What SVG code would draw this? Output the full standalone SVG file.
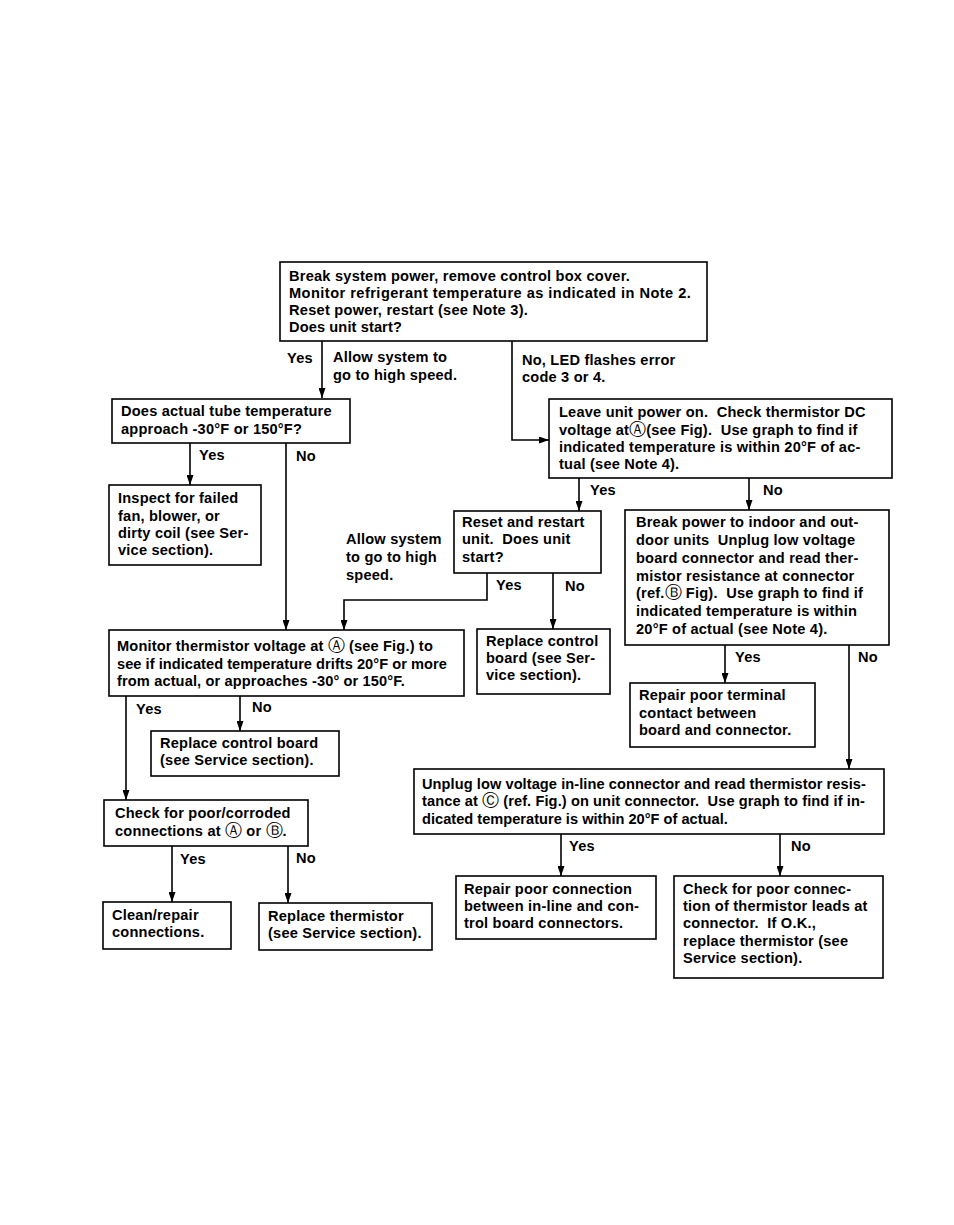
<svg xmlns="http://www.w3.org/2000/svg" width="954" height="1225" viewBox="0 0 954 1225">
<style>
.box{fill:#fff;stroke:#000;stroke-width:1.6}
.c{fill:none;stroke:#000;stroke-width:1.6}
text{font-family:"Liberation Sans","DejaVu Sans",Arial,sans-serif;font-size:14.6px;font-weight:bold;letter-spacing:0.2px;fill:#000}
.cl{font-family:"DejaVu Sans",sans-serif;font-size:17px;font-weight:normal;letter-spacing:0}
</style>
<defs>
<marker id="ah" viewBox="0 0 10 10" refX="10" refY="5" markerWidth="10" markerHeight="7" markerUnits="userSpaceOnUse" orient="auto" preserveAspectRatio="none">
<path d="M0,0 L10,5 L0,10 z" fill="#000"/>
</marker>
</defs>
<rect width="954" height="1225" fill="#fff"/>
<g id="connectors">
<path class="c" d="M322,341 V398" marker-end="url(#ah)"/>
<path class="c" d="M512,341 V440 H549" marker-end="url(#ah)"/>
<path class="c" d="M190,443 V485" marker-end="url(#ah)"/>
<path class="c" d="M286,443 V630" marker-end="url(#ah)"/>
<path class="c" d="M579,478 V511" marker-end="url(#ah)"/>
<path class="c" d="M749,478 V510" marker-end="url(#ah)"/>
<path class="c" d="M487,573 V600 H344 V630" marker-end="url(#ah)"/>
<path class="c" d="M553,573 V629" marker-end="url(#ah)"/>
<path class="c" d="M725,645 V683" marker-end="url(#ah)"/>
<path class="c" d="M849,645 V769" marker-end="url(#ah)"/>
<path class="c" d="M126,696 V800" marker-end="url(#ah)"/>
<path class="c" d="M240,696 V731" marker-end="url(#ah)"/>
<path class="c" d="M561,834 V876" marker-end="url(#ah)"/>
<path class="c" d="M780,834 V876" marker-end="url(#ah)"/>
<path class="c" d="M172,846 V902" marker-end="url(#ah)"/>
<path class="c" d="M288,846 V903" marker-end="url(#ah)"/>
<text x="287" y="363">Yes</text>
<text x="333" y="362">Allow system to</text>
<text x="333" y="380">go to high speed.</text>
<text x="522" y="365">No, LED flashes error</text>
<text x="522" y="382">code 3 or 4.</text>
<text x="199" y="460">Yes</text>
<text x="296" y="461">No</text>
<text x="590" y="495">Yes</text>
<text x="763" y="495">No</text>
<text x="346" y="544">Allow system</text>
<text x="346" y="562">to go to high</text>
<text x="346" y="580">speed.</text>
<text x="496" y="590">Yes</text>
<text x="565" y="591">No</text>
<text x="735" y="662">Yes</text>
<text x="858" y="662">No</text>
<text x="136" y="714">Yes</text>
<text x="252" y="712">No</text>
<text x="569" y="851">Yes</text>
<text x="791" y="851">No</text>
<text x="180" y="864">Yes</text>
<text x="296" y="863">No</text>
</g>
<g id="n1">
<rect class="box" x="280" y="262" width="427" height="79"/>
<text x="289" y="281" textLength="341">Break system power, remove control box cover.</text>
<text x="289" y="298" textLength="402">Monitor refrigerant temperature as indicated in Note 2.</text>
<text x="289" y="315" textLength="239">Reset power, restart (see Note 3).</text>
<text x="289" y="332" textLength="113">Does unit start?</text>
</g>
<g id="n2">
<rect class="box" x="112" y="399" width="238" height="44"/>
<text x="121" y="416">Does actual tube temperature</text>
<text x="121" y="434">approach -30°F or 150°F?</text>
</g>
<g id="n3">
<rect class="box" x="549" y="399" width="343" height="79"/>
<text x="559" y="417">Leave unit power on. &#160;Check thermistor DC</text>
<text x="559" y="435">voltage at<tspan class="cl">Ⓐ</tspan>(see Fig). &#160;Use graph to find if</text>
<text x="559" y="452">indicated temperature is within 20°F of ac-</text>
<text x="559" y="469">tual (see Note 4).</text>
</g>
<g id="n4">
<rect class="box" x="109" y="485" width="152" height="80"/>
<text x="118" y="503">Inspect for failed</text>
<text x="118" y="521">fan, blower, or</text>
<text x="118" y="538">dirty coil (see Ser-</text>
<text x="118" y="555">vice section).</text>
</g>
<g id="n5">
<rect class="box" x="454" y="511" width="147" height="62"/>
<text x="462" y="527">Reset and restart</text>
<text x="462" y="544">unit. &#160;Does unit</text>
<text x="462" y="562">start?</text>
</g>
<g id="n6">
<rect class="box" x="625" y="510" width="264" height="135"/>
<text x="636" y="527">Break power to indoor and out-</text>
<text x="636" y="545">door units &#160;Unplug low voltage</text>
<text x="636" y="563">board connector and read ther-</text>
<text x="636" y="581">mistor resistance at connector</text>
<text x="636" y="598">(ref.<tspan class="cl">Ⓑ</tspan> Fig). &#160;Use graph to find if</text>
<text x="636" y="616">indicated temperature is within</text>
<text x="636" y="634">20°F of actual (see Note 4).</text>
</g>
<g id="n7">
<rect class="box" x="630" y="683" width="185" height="64"/>
<text x="639" y="700">Repair poor terminal</text>
<text x="639" y="718">contact between</text>
<text x="639" y="735">board and connector.</text>
</g>
<g id="n8">
<rect class="box" x="109" y="630" width="355" height="66"/>
<text x="117" y="651" textLength="316">Monitor thermistor voltage at <tspan class="cl">Ⓐ</tspan> (see Fig.) to</text>
<text x="117" y="669" textLength="330">see if indicated temperature drifts 20°F or more</text>
<text x="117" y="686" textLength="288">from actual, or approaches -30° or 150°F.</text>
</g>
<g id="n9">
<rect class="box" x="477" y="629" width="133" height="65"/>
<text x="486" y="646">Replace control</text>
<text x="486" y="663">board (see Ser-</text>
<text x="486" y="680">vice section).</text>
</g>
<g id="n10">
<rect class="box" x="151" y="731" width="188" height="45"/>
<text x="160" y="748">Replace control board</text>
<text x="160" y="765">(see Service section).</text>
</g>
<g id="n11">
<rect class="box" x="414" y="769" width="470" height="65"/>
<text x="422" y="789" textLength="444">Unplug low voltage in-line connector and read thermistor resis-</text>
<text x="422" y="806" textLength="443">tance at <tspan class="cl">Ⓒ</tspan> (ref. Fig.) on unit connector. &#160;Use graph to find if in-</text>
<text x="422" y="824" textLength="306">dicated temperature is within 20°F of actual.</text>
</g>
<g id="n12">
<rect class="box" x="104" y="800" width="204" height="46"/>
<text x="115" y="818">Check for poor/corroded</text>
<text x="115" y="836">connections at <tspan class="cl">Ⓐ</tspan> or <tspan class="cl">Ⓑ</tspan>.</text>
</g>
<g id="n13">
<rect class="box" x="103" y="902" width="128" height="47"/>
<text x="112" y="920">Clean/repair</text>
<text x="112" y="937">connections.</text>
</g>
<g id="n14">
<rect class="box" x="259" y="903" width="173" height="47"/>
<text x="268" y="921">Replace thermistor</text>
<text x="268" y="938">(see Service section).</text>
</g>
<g id="n15">
<rect class="box" x="456" y="876" width="200" height="63"/>
<text x="464" y="894">Repair poor connection</text>
<text x="464" y="911">between in-line and con-</text>
<text x="464" y="928">trol board connectors.</text>
</g>
<g id="n16">
<rect class="box" x="674" y="876" width="209" height="102"/>
<text x="683" y="894">Check for poor connec-</text>
<text x="683" y="911">tion of thermistor leads at</text>
<text x="683" y="928">connector. &#160;If O.K.,</text>
<text x="683" y="946">replace thermistor (see</text>
<text x="683" y="963">Service section).</text>
</g>
</svg>
